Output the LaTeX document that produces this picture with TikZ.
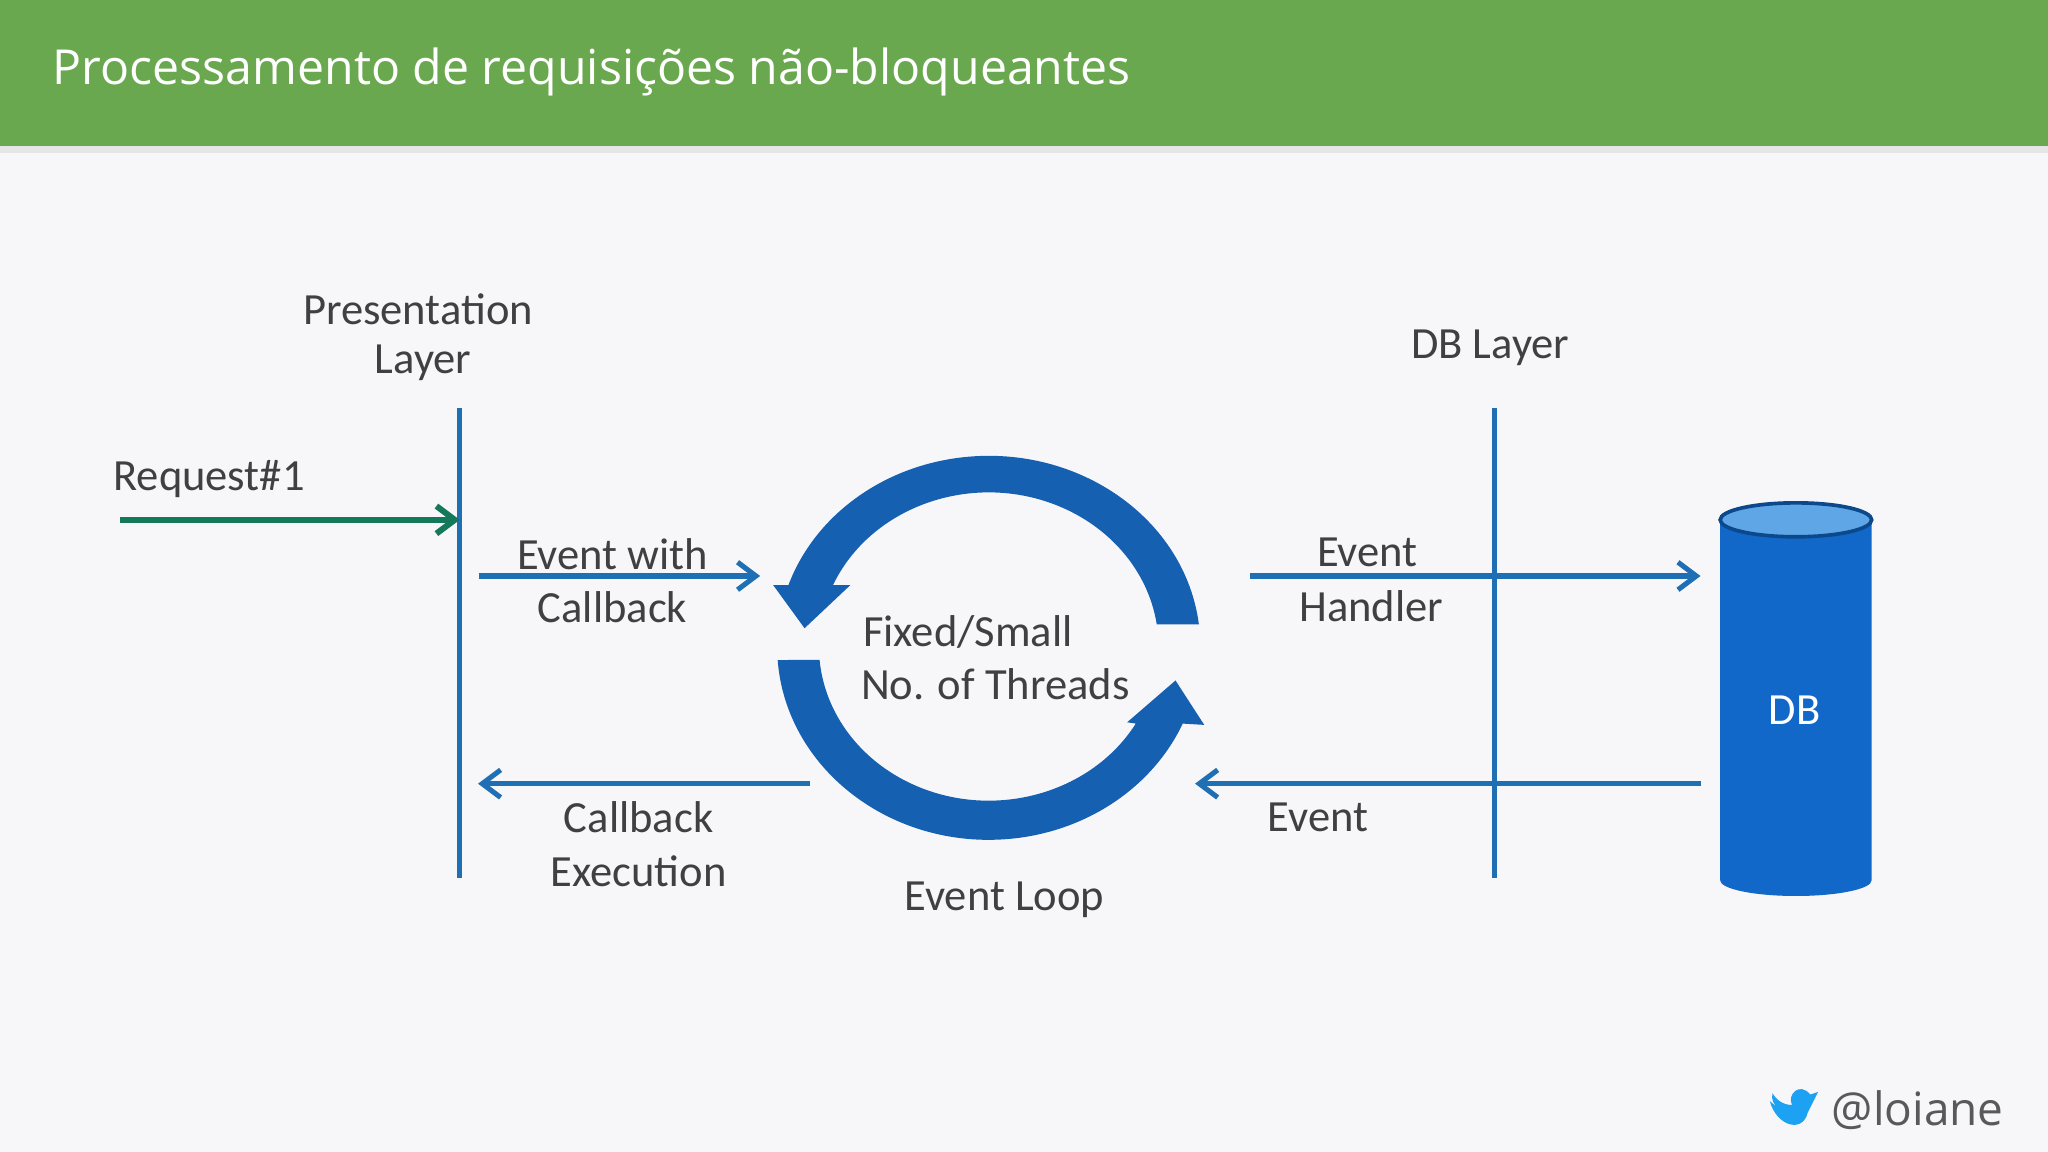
\documentclass[tikz,border=0pt]{standalone}
\usepackage{fontspec}
\usetikzlibrary{arrows.meta}
\setmainfont{Carlito}
\newfontfamily\titlefont{Open Sans}
\begin{document}
\begin{tikzpicture}[x=0.01cm,y=-0.01cm,
  lbl/.style={font=\fontsize{9.7}{11}\selectfont, text=black!75, anchor=center},
  bline/.style={draw=lineblue, line width=1.1pt},
  barr/.style={draw=lineblue, line width=1.1pt, -{Straight Barb[length=4pt,width=6pt]}},
  ring/.style={fill=ringblue}]
\definecolor{lineblue}{HTML}{1F6FB5}
\definecolor{ringblue}{HTML}{1660B2}
\definecolor{dbblue}{HTML}{1168C8}
\definecolor{dbtop}{HTML}{5FA6E6}
\definecolor{hdr}{HTML}{6AA84F}
\definecolor{bg}{HTML}{F7F7F9}
\definecolor{reqgreen}{HTML}{14785A}
\definecolor{twblue}{HTML}{1DA1F2}
\useasboundingbox (0,0) rectangle (1568,882);
\fill[bg] (0,0) rectangle (1568,882);
\fill[black!10] (0,112) rectangle (1568,117);
\fill[hdr] (0,0) rectangle (1568,112);
\node[anchor=west, text=white, font=\titlefont\fontsize{10.5}{13}\selectfont] (title) at (28,55) {Processamento de requisições não-bloqueantes};
% layers
\coordinate (p1) at (352,312); \coordinate (p2) at (352,672);
\coordinate (d1) at (1144,312); \coordinate (d2) at (1144,672);
\draw[bline] (p1) -- (p2);
\draw[bline] (d1) -- (d2);
\node[lbl] (pres) at (320,237) {Presentation};
\node[lbl] (presl) at (324,278) {Layer};
\node[lbl] (dbl) at (1141,266) {DB Layer};
% request
\coordinate (r1) at (92,398); \coordinate (r2) at (352,398);
\draw[draw=reqgreen, line width=1.3pt, -{Straight Barb[length=4pt,width=6pt]}] (r1) -- (r2);
\node[lbl] (req) at (160,367) {Request\#1};
% arrows
\coordinate (a1) at (367,441); \coordinate (a2) at (582,441);
\draw[barr] (a1) -- (a2);
\node[lbl] (ew) at (469,424) {Event with};
\node[lbl] (cb) at (469,465) {Callback};
\coordinate (b1) at (620,600); \coordinate (b2) at (366,600);
\draw[barr] (b1) -- (b2);
\node[lbl] (ce1) at (489,626) {Callback};
\node[lbl] (ce2) at (489,667) {Execution};
\coordinate (c1) at (957,441); \coordinate (c2) at (1302,441);
\draw[barr] (c1) -- (c2);
\node[lbl] (eh1) at (1047,423) {Event};
\node[lbl] (eh2) at (1050,464) {Handler};
\coordinate (e1) at (1302,600); \coordinate (e2) at (915,600);
\draw[barr] (e1) -- (e2);
\node[lbl] (ev) at (1009,626) {Event};
% ring
\begin{scope}[shift={(757,495)}]
\fill[ring] (-6.7:162 and 146) arc[start angle=-6.7,end angle=-161.2,x radius=162,y radius=146]
  -- (-165,-47) -- (-141,-14) -- (-106,-47)
  -- (-156.5:130 and 118) arc[start angle=-156.5,end angle=-8.3,x radius=130,y radius=118] -- cycle;
\fill[ring] (176:162 and 148) arc[start angle=176,end angle=23.5,x radius=162,y radius=148]
  -- (165,60) -- (143,26) -- (106,58)
  -- (30:130 and 118) arc[start angle=30,end angle=175,x radius=130,y radius=118] -- cycle;
\end{scope}
\node[lbl] (fs) at (741,484) {Fixed/Small};
\node[lbl] (nt) at (762,524) {No. of Threads};
\node[lbl] (el) at (769,689) {Event Loop};
% DB
\fill[dbblue] (1317,398) -- (1317,674) arc[start angle=180,end angle=0,x radius=58,y radius=12] -- (1433,398) -- cycle;
\draw[dbblue!70!black, fill=dbtop, line width=0.8pt] (1375,398) ellipse[x radius=58, y radius=13];
\node[font=\fontsize{9.7}{11}\selectfont, text=white] (db) at (1374,544) {DB};
% twitter
\fill[twblue] (1355,843) .. controls (1360,862) and (1380,868) .. (1384,852)
  -- (1392,836) -- (1386,838) .. controls (1378,828) and (1368,838) .. (1372,846)
  .. controls (1365,846) and (1360,842) .. (1357,837) .. controls (1356,842) and (1358,846) .. (1362,849) -- cycle;
\node[anchor=west, font=\titlefont\fontsize{10}{12}\selectfont, text=black!65] (tw) at (1390,850) {@loiane};
\end{tikzpicture}
\end{document}
